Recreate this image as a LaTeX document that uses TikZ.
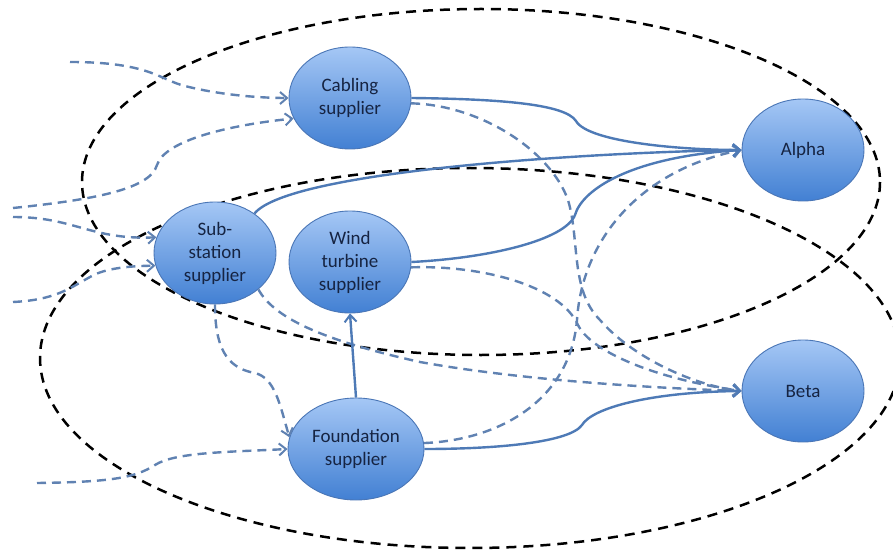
\documentclass[tikz,border=0pt]{standalone}
\usepackage{fontspec}
\setmainfont{Carlito}
\usetikzlibrary{arrows.meta,shapes.geometric}
\definecolor{nodetop}{RGB}{165,199,245}
\definecolor{nodebot}{RGB}{66,128,211}
\definecolor{nodeline}{RGB}{74,118,182}
\definecolor{txt}{RGB}{22,36,66}
\definecolor{solidc}{RGB}{78,122,182}
\definecolor{dashc}{RGB}{96,130,178}
\begin{document}
\begin{tikzpicture}[x=1pt,y=-1pt,
  actor/.style={ellipse, draw=nodeline, line width=0.9pt, top color=nodetop, bottom color=nodebot,
    text=txt, font=\fontsize{19}{23}\selectfont, align=center, inner sep=0pt,
    minimum width=122pt, minimum height=102pt},
  tipx/.style={-{Straight Barb[length=7pt,width=12pt,line width=2pt]}},
  flow/.style={draw=solidc, line width=2.4pt, tipx},
  dflow/.style={draw=dashc, line width=2.4pt, dash pattern=on 9pt off 6pt, tipx},
  group/.style={draw=black, line width=2.5pt, dash pattern=on 10pt off 7pt}]
\clip (0,0) rectangle (893,553);
\useasboundingbox (0,0) rectangle (893,553);
\fill[white] (0,0) rectangle (893,553);

% group boundaries
\draw[group] (481,182) ellipse [x radius=399, y radius=173];
\draw[group] (470,358) ellipse [x radius=430, y radius=190];

% actors
\node[actor] (cab) at (350,98) {Cabling\\supplier};
\node[actor] (sub) at (215,253) {Sub-\\station\\supplier};
\node[actor] (wind) at (350,262) {Wind\\turbine\\supplier};
\node[actor, minimum width=136pt] (found) at (356,449) {Foundation\\supplier};
\node[actor] (alpha) at (803,150) {Alpha};
\node[actor] (beta) at (803,391) {Beta};

% free ends
\coordinate (i1) at (70,62);
\coordinate (i2) at (13,208);
\coordinate (i3) at (13,217);
\coordinate (i4) at (13,302);
\coordinate (i5) at (37,483);

% incoming dashed flows
\draw[dflow] (i1) .. controls (150,62) and (160,80) .. (185,86) .. controls (220,95) and (260,98) .. (cab.west);
\draw[dflow] (i2) .. controls (90,200) and (150,190) .. (157,165) .. controls (165,140) and (230,125) .. (cab.200);
\draw[dflow] (i3) .. controls (75,217) and (90,240) .. (sub.165);
\draw[dflow] (i4) .. controls (55,300) and (70,288) .. (90,277) .. controls (105,268) and (130,266) .. (sub.192);
\draw[dflow] (i5) .. controls (110,482) and (135,478) .. (155,465) .. controls (175,452) and (230,452) .. (found.west);

% dashed flows between actors
\draw[dflow] (sub.south) .. controls (215,345) and (225,368) .. (255,373) .. controls (275,378) and (280,405) .. (found.170);
\draw[dflow] (sub.-40) .. controls (275,320) and (330,342) .. (420,362) .. controls (520,380) and (650,388) .. (beta.west);
\draw[dflow] (cab.-5) .. controls (480,105) and (550,150) .. (568,200) .. controls (580,240) and (570,290) .. (600,320) .. controls (630,355) and (690,385) .. (beta.west);
\draw[dflow] (wind.-5) .. controls (480,265) and (560,285) .. (578,325) .. controls (590,350) and (650,378) .. (beta.west);
\draw[dflow] (found.5) .. controls (500,440) and (570,400) .. (577,320) .. controls (582,240) and (640,170) .. (alpha.west);

% solid flows
\draw[flow] (cab.east) .. controls (500,99) and (565,104) .. (576,121) .. controls (588,142) and (680,150) .. (alpha.west);
\draw[flow] (sub.45) .. controls (290,170) and (600,152) .. (alpha.west);
\draw[flow] (wind.east) .. controls (490,258) and (565,240) .. (575,215) .. controls (582,190) and (630,157) .. (alpha.west);
\draw[flow] (found.north) -- (wind.south);
\draw[flow] (found.east) .. controls (500,449) and (570,442) .. (582,425) .. controls (592,408) and (650,392) .. (beta.west);
\end{tikzpicture}
\end{document}
